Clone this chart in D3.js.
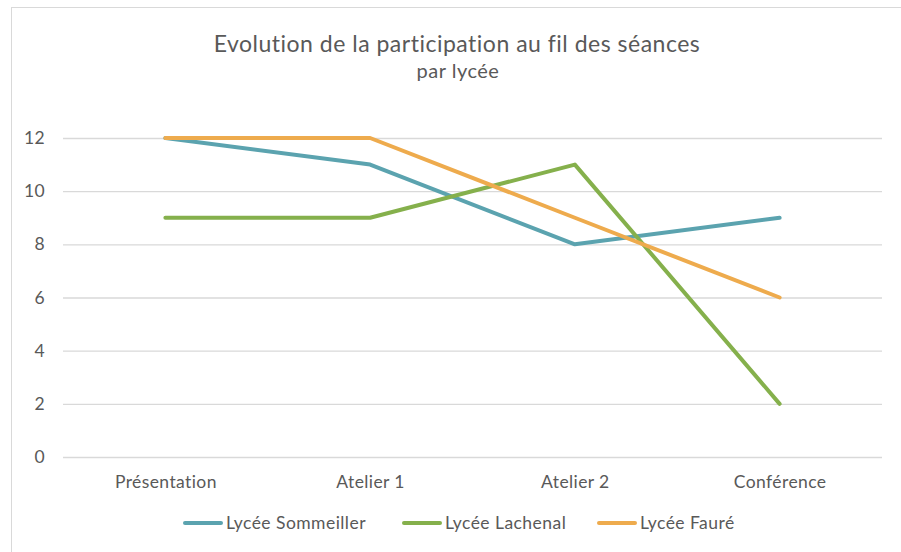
<!DOCTYPE html>
<html>
<head>
<meta charset="utf-8">
<script src="https://cdn.jsdelivr.net/npm/d3@7"></script>
<style>
  body { margin: 0; background: #fff; }
  text { font-family: Lato, "Open Sans", sans-serif; fill: #595959; }
</style>
</head>
<body>
<svg width="901" height="552"></svg>
<script>
// data
var seances = ["Présentation", "Atelier 1", "Atelier 2", "Conférence"];
var sommeiller = [12, 11, 8, 9];
var lachenal = [9, 9, 11, 2];
var faure = [12, 12, 9, 6];
var yTicks = [0, 2, 4, 6, 8, 10, 12];

var series = [
  { name: "Lycée Sommeiller", values: sommeiller, color: "#5ba3af" },
  { name: "Lycée Lachenal", values: lachenal, color: "#85b04c" },
  { name: "Lycée Fauré", values: faure, color: "#eeab4d" }
];

var svg = d3.select("svg"),
    plotLeft = 63, plotRight = 882, plotTop = 138, plotBottom = 457;

// chart frame
svg.append("rect")
    .attr("x", 11.5).attr("y", 7.5)
    .attr("width", 900).attr("height", 560)
    .attr("fill", "none").attr("stroke", "#d9d9d9");

var x = d3.scalePoint().domain(seances).range([plotLeft, plotRight]).padding(0.5);
var y = d3.scaleLinear().domain([0, 12]).range([plotBottom, plotTop]);

// gridlines + y labels
var yAxis = svg.append("g")
    .attr("transform", "translate(" + plotLeft + ",0)")
    .call(d3.axisLeft(y).tickValues(yTicks).tickSize(-(plotRight - plotLeft)).tickPadding(18));
yAxis.select(".domain").remove();
yAxis.selectAll("line").attr("stroke", "#d9d9d9").attr("stroke-width", 1.3);
yAxis.selectAll("text").style("font-size", "17.5px").style("letter-spacing", "0.4px").attr("fill", "#595959");

// x labels
var xAxis = svg.append("g")
    .attr("transform", "translate(0," + plotBottom + ")")
    .call(d3.axisBottom(x).tickSize(0).tickPadding(19));
xAxis.select(".domain").remove();
xAxis.selectAll("text").style("font-size", "17.5px").style("letter-spacing", "0.4px").attr("fill", "#595959");

var line = d3.line()
    .x(function (d, i) { return x(seances[i]); })
    .y(function (d) { return y(d); });

svg.selectAll(".serie")
    .data(series)
    .enter()
    .append("path")
    .attr("class", "serie")
    .attr("d", function (d) { return line(d.values); })
    .attr("fill", "none")
    .attr("stroke", function (d) { return d.color; })
    .attr("stroke-width", 4)
    .attr("stroke-linecap", "round")
    .attr("stroke-linejoin", "round");

// titles
svg.append("text")
    .attr("x", 457).attr("y", 52)
    .attr("text-anchor", "middle")
    .style("font-size", "23px")
    .style("letter-spacing", "0.5px")
    .text("Evolution de la participation au fil des séances");
svg.append("text")
    .attr("x", 458).attr("y", 78)
    .attr("text-anchor", "middle")
    .style("font-size", "20px")
    .style("letter-spacing", "0.5px")
    .text("par lycée");

// legend
var legendX = [183, 402, 597];
var legend = svg.selectAll(".legend")
    .data(series)
    .enter()
    .append("g")
    .attr("class", "legend")
    .attr("transform", function (d, i) { return "translate(" + legendX[i] + ",523)"; });
legend.append("line")
    .attr("x1", 2).attr("x2", 38)
    .attr("stroke", function (d) { return d.color; })
    .attr("stroke-width", 4)
    .attr("stroke-linecap", "round");
legend.append("text")
    .attr("x", 43).attr("y", 6)
    .style("font-size", "17.5px")
    .style("letter-spacing", "0.45px")
    .text(function (d) { return d.name; });
</script>
</body>
</html>
